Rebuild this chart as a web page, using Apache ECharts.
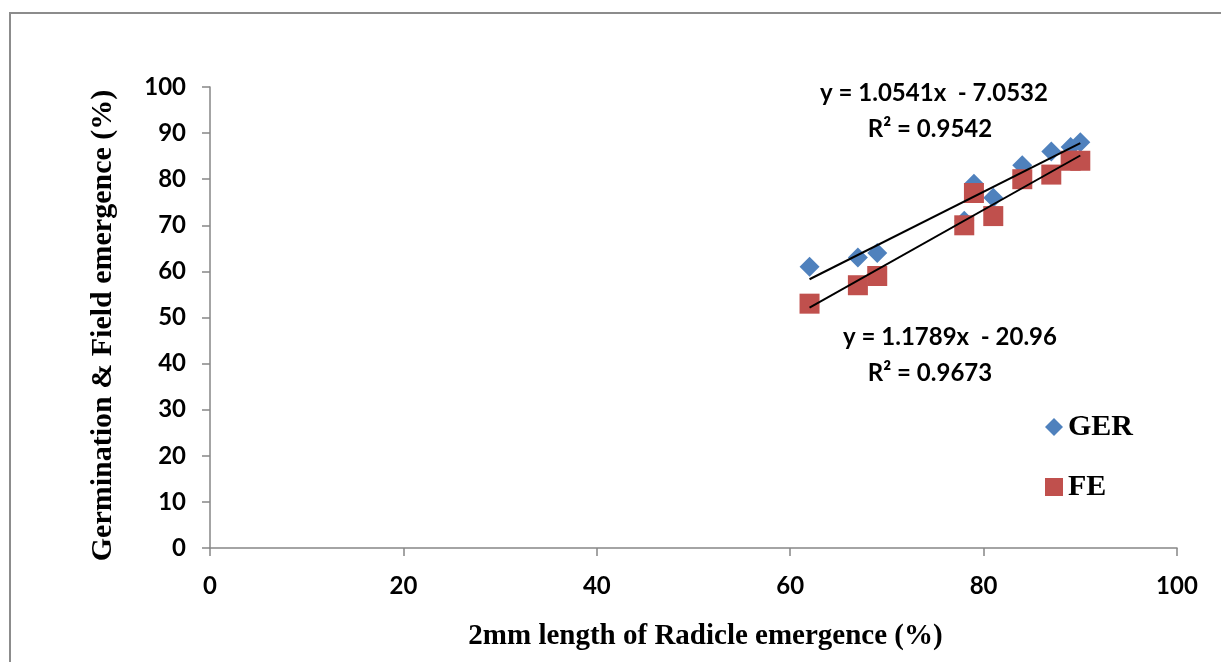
<!DOCTYPE html>
<html>
<head>
<meta charset="utf-8">
<script src="https://cdn.jsdelivr.net/npm/echarts@6/dist/echarts.min.js"></script>
<style>
html,body{margin:0;padding:0;background:#fff;}
#c{width:1221px;height:662px;}
</style>
</head>
<body>
<div id="c"></div>
<script>
// Data
var gerX = [62, 67, 69, 78, 79, 81, 84, 87, 89, 90];
var gerY = [61, 63, 64, 71, 79, 76, 83, 86, 87, 88];
var feX  = [62, 67, 69, 78, 79, 81, 84, 87, 89, 90];
var feY  = [53, 57, 59, 70, 77, 72, 80, 81, 84, 84];
var xTicks = [0, 20, 40, 60, 80, 100];
var yTicks = [0, 10, 20, 30, 40, 50, 60, 70, 80, 90, 100];
// Trendline coefficients (as shown on chart)
var gerSlope = 1.0541, gerIntercept = -7.0532, gerR2 = 0.9542;
var feSlope = 1.1789, feIntercept = -20.96, feR2 = 0.9673;

function zip(xs, ys){ return xs.map(function(x,i){ return [x, ys[i]]; }); }
function trend(xs, m, b){
  var lo = Math.min.apply(null, xs), hi = Math.max.apply(null, xs);
  return [[lo, m*lo + b], [hi, m*hi + b]];
}

var sans = 'Lato';
var tickFont = {fontFamily:sans, fontWeight:'bold', fontSize:24, color:'#000'};
var serif = 'Liberation Serif';
var eqFont = 'bold 24px Lato';

var chart = echarts.init(document.getElementById('c'), null, {renderer:'canvas'});
chart.setOption({
  animation:false,
  backgroundColor:'#fff',
  grid:{left:210, right:44, top:87, bottom:114, containLabel:false},
  xAxis:{
    type:'value', min:0, max:100, interval:20,
    axisLine:{show:true, lineStyle:{color:'#868686', width:1.5}},
    axisTick:{show:true, inside:false, length:8, lineStyle:{color:'#868686', width:1.5}},
    splitLine:{show:false},
    axisLabel:Object.assign({margin:26}, tickFont),
    name:'2mm length of Radicle emergence (%)',
    nameLocation:'middle', nameGap:74,
    nameTextStyle:{fontFamily:serif, fontWeight:'bold', fontSize:29, color:'#000', padding:[0,0,0,24]}
  },
  yAxis:{
    type:'value', min:0, max:100, interval:10,
    axisLine:{show:true, lineStyle:{color:'#868686', width:1.5}},
    axisTick:{show:true, inside:false, length:8, lineStyle:{color:'#868686', width:1.5}},
    splitLine:{show:false},
    axisLabel:Object.assign({margin:24}, tickFont),
    name:'Germination & Field emergence (%)',
    nameLocation:'middle', nameGap:92,
    nameTextStyle:{fontFamily:serif, fontWeight:'bold', fontSize:30, color:'#000', padding:[0,16,0,0]}
  },
  legend:{
    orient:'vertical', left:1040, top:407, itemGap:30,
    itemWidth:18, itemHeight:18,
    textStyle:{fontFamily:serif, fontWeight:'bold', fontSize:30, color:'#000'},
    data:[{name:'GER', icon:'diamond'}, {name:'FE', icon:'rect'}]
  },
  series:[
    {name:'GER', type:'scatter', symbol:'diamond', symbolSize:20, z:3,
     itemStyle:{color:'#4F81BD', opacity:1}, data:zip(gerX, gerY)},
    {name:'FE', type:'scatter', symbol:'rect', symbolSize:20, z:4,
     itemStyle:{color:'#C0504D', opacity:1}, data:zip(feX, feY)},
    {name:'GER trend', type:'line', symbol:'none', z:5, silent:true,
     lineStyle:{color:'#000', width:2}, data:trend(gerX, gerSlope, gerIntercept)},
    {name:'FE trend', type:'line', symbol:'none', z:5, silent:true,
     lineStyle:{color:'#000', width:2}, data:trend(feX, feSlope, feIntercept)}
  ],
  graphic:[
    {type:'rect', shape:{x:10, y:13, width:1240, height:700}, z:-10,
     style:{fill:'none', stroke:'#8c8c8c', lineWidth:2}},
    {type:'text', x:934, y:93, z:10, style:{text:'y = ' + gerSlope + 'x  - ' + Math.abs(gerIntercept),
      font:eqFont, fill:'#000', textAlign:'center', textVerticalAlign:'middle'}},
    {type:'text', x:930, y:129, z:10, style:{text:'R² = ' + gerR2,
      font:eqFont, fill:'#000', textAlign:'center', textVerticalAlign:'middle'}},
    {type:'text', x:950, y:337, z:10, style:{text:'y = ' + feSlope + 'x  - ' + Math.abs(feIntercept),
      font:eqFont, fill:'#000', textAlign:'center', textVerticalAlign:'middle'}},
    {type:'text', x:930, y:373, z:10, style:{text:'R² = ' + feR2,
      font:eqFont, fill:'#000', textAlign:'center', textVerticalAlign:'middle'}}
  ]
});
</script>
</body>
</html>
